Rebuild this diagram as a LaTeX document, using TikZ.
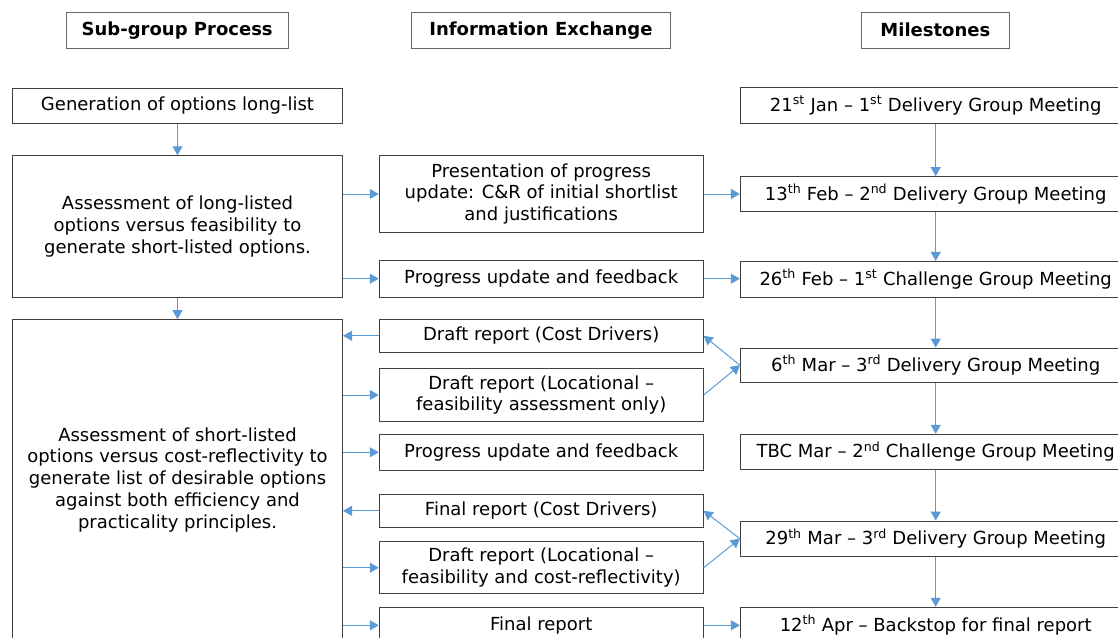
\documentclass[tikz,border=0pt]{standalone}
\usepackage{fontspec}
\setmainfont{DejaVu Sans}
\usetikzlibrary{arrows.meta}
\definecolor{flow}{HTML}{5B9BD5}
\definecolor{edge}{HTML}{404040}
\begin{document}
\begin{tikzpicture}[x=1pt,y=-1pt,
  box/.style={draw=edge, line width=1pt, align=center, inner sep=0pt,
    font=\fontsize{18}{21.7}\selectfont},
  head/.style={box, draw=edge!80, font=\fontsize{18}{21.7}\selectfont\bfseries},
  link/.style={draw=flow, line width=1pt, -{Triangle[length=9pt,width=10pt]}}]
\useasboundingbox (0,0) rectangle (1118,637);
\clip (0,0) rectangle (1118,637);

% column headings
\node[head, minimum width=221.6pt, minimum height=35.7pt] (hsub) at (177.2,30.2) {Sub-group Process};
\node[head, minimum width=259.7pt, minimum height=35.7pt] (hinfo) at (540.9,30.2) {Information Exchange};
\node[head, minimum width=147.2pt, minimum height=35.7pt] (hmile) at (935.4,30.2) {Milestones};

% sub-group process
\node[box, minimum width=330pt, minimum height=35pt] (gen) at (177.5,105.8) {Generation of options long-list};
\node[box, minimum width=330pt, minimum height=141.3pt] (ass1) at (177.5,226.4)
  {Assessment of long-listed\\options versus feasibility to\\generate short-listed options.};
\node[box, minimum width=330pt, minimum height=320pt] (ass2) at (177.5,479.7)
  {Assessment of short-listed\\options versus cost-reflectivity to\\generate list of desirable options\\against both efficiency and\\practicality principles.};

% information exchange
\node[box, minimum width=323.9pt, minimum height=76.6pt] (pres) at (541.2,194)
  {Presentation of progress\\update: C\&R of initial shortlist\\and justifications};
\node[box, minimum width=323.9pt, minimum height=36.7pt] (prog1) at (541.2,278.7) {Progress update and feedback};
\node[box, minimum width=323.9pt, minimum height=33pt] (dcd) at (541.2,335.8) {Draft report (Cost Drivers)};
\node[box, minimum width=323.9pt, minimum height=52.6pt] (dloc1) at (541.2,395)
  {Draft report (Locational –\\feasibility assessment only)};
\node[box, minimum width=323.9pt, minimum height=36pt] (prog2) at (541.2,452.3) {Progress update and feedback};
\node[box, minimum width=323.9pt, minimum height=33pt] (fcd) at (541.2,510.8) {Final report (Cost Drivers)};
\node[box, minimum width=323.9pt, minimum height=52pt] (dloc2) at (541.2,567.7)
  {Draft report (Locational –\\feasibility and cost-reflectivity)};
\node[box, minimum width=323.9pt, minimum height=36pt] (frep) at (541.2,625.3) {Final report};

% milestones
\node[box, minimum width=390.6pt, minimum height=35.6pt] (jan) at (935.7,105.5)
  {21\textsuperscript{st} Jan – 1\textsuperscript{st} Delivery Group Meeting};
\node[box, minimum width=390.6pt, minimum height=34.6pt] (feba) at (935.7,194)
  {13\textsuperscript{th} Feb – 2\textsuperscript{nd} Delivery Group Meeting};
\node[box, minimum width=390.6pt, minimum height=35.7pt] (febb) at (935.7,279.2)
  {26\textsuperscript{th} Feb – 1\textsuperscript{st} Challenge Group Meeting};
\node[box, minimum width=390.6pt, minimum height=34.3pt] (mara) at (935.7,365.2)
  {6\textsuperscript{th} Mar – 3\textsuperscript{rd} Delivery Group Meeting};
\node[box, minimum width=390.6pt, minimum height=35pt] (tbc) at (935.7,451.8)
  {TBC Mar – 2\textsuperscript{nd} Challenge Group Meeting};
\node[box, minimum width=390.6pt, minimum height=35.3pt] (marb) at (935.7,538.7)
  {29\textsuperscript{th} Mar – 3\textsuperscript{rd} Delivery Group Meeting};
\node[box, minimum width=390.6pt, minimum height=35.4pt] (apr) at (935.7,625)
  {12\textsuperscript{th} Apr – Backstop for final report};

% process flow
\draw[link] (gen) -- (ass1);
\draw[link] (ass1) -- (ass2);

% exchanges between process and information
\draw[link] (pres.west -| ass1.east) -- (pres.west);
\draw[link] (prog1.west -| ass1.east) -- (prog1.west);
\draw[link] (dcd.west) -- (dcd.west -| ass2.east);
\draw[link] (dloc1.west -| ass2.east) -- (dloc1.west);
\draw[link] (prog2.west -| ass2.east) -- (prog2.west);
\draw[link] (fcd.west) -- (fcd.west -| ass2.east);
\draw[link] (dloc2.west -| ass2.east) -- (dloc2.west);
\draw[link] (frep.west -| ass2.east) -- (frep.west);

% information into milestones
\draw[link] (pres.east) -- (pres.east -| feba.west);
\draw[link] (prog1.east) -- (prog1.east -| febb.west);
\draw[link] (frep.east) -- (frep.east -| apr.west);
\draw[link] (mara.west) -- (dcd.east);
\draw[link] (dloc1.east) -- (mara.west);
\draw[link] (marb.west) -- (fcd.east);
\draw[link] (dloc2.east) -- (marb.west);

% milestone sequence
\draw[link] (jan) -- (feba);
\draw[link] (feba) -- (febb);
\draw[link] (febb) -- (mara);
\draw[link] (mara) -- (tbc);
\draw[link] (tbc) -- (marb);
\draw[link] (marb) -- (apr);
\end{tikzpicture}
\end{document}
